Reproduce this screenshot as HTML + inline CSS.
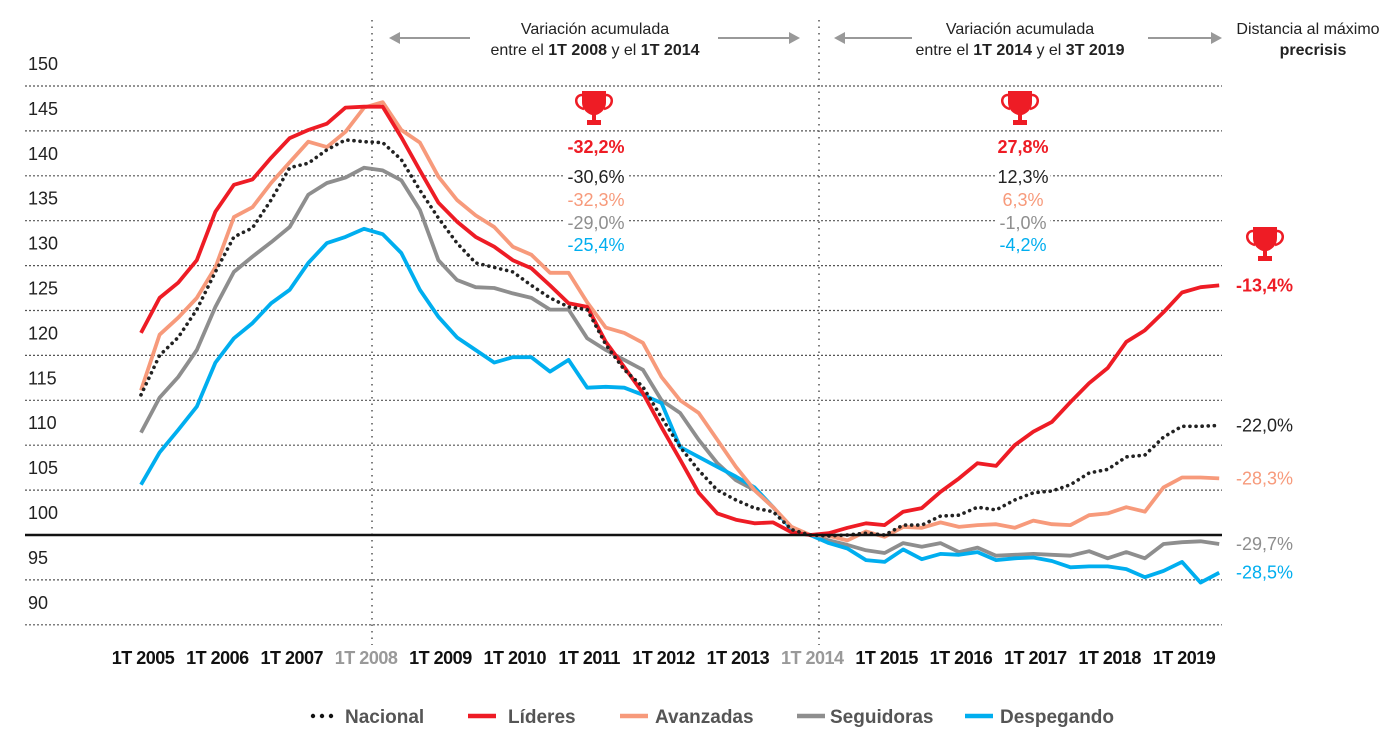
<!DOCTYPE html>
<html><head><meta charset="utf-8">
<style>
html,body{margin:0;padding:0;background:#fff;}
body{width:1400px;height:748px;overflow:hidden;font-family:"Liberation Sans Narrow","Liberation Sans",sans-serif;}
svg text{font-family:"Liberation Sans Narrow","Liberation Sans",sans-serif;}
</style></head>
<body>
<svg id="chart" width="1400" height="748" viewBox="0 0 1400 748" xmlns="http://www.w3.org/2000/svg">
<g id="grid"></g>
<g id="ylabels"></g>
<g id="xlabels"></g>
<g id="series"></g>
<g id="annot"></g>
<g id="legend"></g>
</svg>
<script>
const yTicks = [90,95,100,105,110,115,120,125,130,135,140,145,150];
const xYears = ["1T 2005","1T 2006","1T 2007","1T 2008","1T 2009","1T 2010","1T 2011","1T 2012","1T 2013","1T 2014","1T 2015","1T 2016","1T 2017","1T 2018","1T 2019"];
const nacional = [115.6,120.0,122.0,125.1,129.3,133.2,134.2,137.3,140.9,141.4,142.9,144.0,143.8,143.7,141.8,138.4,135.3,132.5,130.3,129.8,129.3,127.8,126.4,125.4,125.1,121.2,118.4,116.5,113.1,109.8,107.2,105.0,103.9,103.0,102.6,100.6,100,99.9,100,100.2,100,101.1,101.1,102.1,102.2,103.1,102.8,103.9,104.7,104.9,105.6,106.9,107.3,108.7,108.9,110.9,112.1,112.1,112.2];
const lideres = [122.5,126.4,128.1,130.6,136.0,139.0,139.6,142.0,144.2,145.1,145.8,147.6,147.7,147.7,144.3,140.6,137.0,134.9,133.2,132.1,130.6,129.7,127.8,125.8,125.4,121.5,118.7,115.8,112.0,108.4,104.7,102.4,101.7,101.3,101.4,100.3,100,100.2,100.8,101.3,101.1,102.6,103.0,104.8,106.3,108.0,107.7,110.0,111.5,112.6,114.8,116.9,118.6,121.5,122.8,124.8,127.0,127.6,127.8];
const avanzadas = [116.1,122.3,124.2,126.4,129.8,135.4,136.5,139.2,141.5,143.8,143.2,144.9,147.6,148.2,145.1,143.7,139.9,137.3,135.6,134.3,132.1,131.2,129.2,129.2,125.9,123.1,122.5,121.4,117.6,115.0,113.6,110.6,107.6,105.0,103.1,100.9,100,99.9,99.4,100.4,99.8,100.9,100.8,101.4,100.9,101.1,101.2,100.8,101.6,101.2,101.1,102.2,102.4,103.1,102.6,105.3,106.4,106.4,106.3];
const seguidoras = [111.4,115.3,117.6,120.6,125.4,129.3,131.0,132.6,134.3,137.9,139.2,139.8,140.9,140.6,139.5,136.2,130.6,128.4,127.6,127.5,126.9,126.4,125.1,125.1,121.9,120.6,119.5,118.4,115.0,113.6,110.6,108.0,106.1,105.0,103.1,100.8,100,99.4,98.9,98.3,98.0,99.1,98.7,99.1,98.1,98.6,97.7,97.8,97.9,97.8,97.7,98.2,97.4,98.1,97.4,99.0,99.2,99.3,99.0];
const despegando = [105.6,109.2,111.7,114.3,119.2,121.9,123.6,125.8,127.3,130.3,132.5,133.2,134.1,133.5,131.4,127.3,124.3,122.0,120.6,119.2,119.8,119.8,118.2,119.5,116.4,116.5,116.4,115.6,114.7,109.8,108.7,107.6,106.5,105.3,103.1,100.6,100,99.1,98.5,97.2,97.0,98.4,97.3,97.9,97.8,98.1,97.2,97.4,97.5,97.1,96.4,96.5,96.5,96.2,95.3,96.0,97.0,94.7,95.8];
const seriesNames = ["Nacional","Líderes","Avanzadas","Seguidoras","Despegando"];
const col1Values = ["-30,6%","-32,2%","-32,3%","-29,0%","-25,4%"];
const col2Values = ["12,3%","27,8%","6,3%","-1,0%","-4,2%"];
const endValues = ["-22,0%","-13,4%","-28,3%","-29,7%","-28,5%"];

const NS="http://www.w3.org/2000/svg";
const colors=["#222","#ee1c25","#f79a7b","#8e8e8e","#00aeef"];
const yScale=v=>535-(v-100)*8.98;
const xScale=q=>141+q*18.59;
function mk(tag,attrs,parent,txt){const e=document.createElementNS(NS,tag);for(const k in attrs)e.setAttribute(k,attrs[k]);if(txt!==undefined)e.textContent=txt;parent.appendChild(e);return e;}
const grid=document.getElementById('grid'),yl=document.getElementById('ylabels'),xl=document.getElementById('xlabels'),sg=document.getElementById('series'),an=document.getElementById('annot'),lg=document.getElementById('legend');

yTicks.forEach(v=>{
  const y=yScale(v);
  if(v!==100){
    const l=mk('line',{x1:25,x2:1222,y1:y,y2:y,stroke:'#555','stroke-width':1.2,'stroke-dasharray':'2 2'},grid);
    
    
  }
  const t=mk('text',{x:28,y:y-16,'font-size':18,fill:'#222'},yl,String(v));
  
  
});
[372,819].forEach((x,i)=>{
  const l=mk('line',{x1:x,x2:x,y1:20,y2:645,stroke:'#555','stroke-width':1.5,'stroke-dasharray':'1.5 5'},grid);
  
  
});
xYears.forEach((s,i)=>{
  const gray=(i===3||i===9);
  const t=mk('text',{x:xScale(i*4)+2,y:664,'text-anchor':'middle','font-size':18,'font-weight':'bold',fill:gray?'#999':'#111','letter-spacing':'-0.5'},xl,s);
  
  
});
const allSeries=[nacional,lideres,avanzadas,seguidoras,despegando];
[3,4,2,1,0].forEach(si=>{
  const d=allSeries[si].map((v,q)=>(q?'L':'M')+xScale(q).toFixed(1)+' '+yScale(v).toFixed(1)).join(' ');
  const attrs={d:d,fill:'none',stroke:colors[si],'stroke-width':si===0?3:3.8,'stroke-linejoin':'round'};
  if(si===0){attrs['stroke-dasharray']='0.1 6';attrs['stroke-linecap']='round';attrs['stroke-width']=3.6;}
  const p=mk('path',attrs,sg);
  
  
});
const base=mk('line',{x1:25,x2:1222,y1:535,y2:535,stroke:'#111','stroke-width':2.5},sg);



// header
function header(cx,lines,name){
  const g=mk('g',{},an);
  
  
  mk('text',{x:cx,y:34,'text-anchor':'middle','font-size':16,fill:'#222'},g,lines[0]);
  const t=mk('text',{x:cx,y:55,'text-anchor':'middle','font-size':16,fill:'#222'},g);
  lines[1].forEach(([s,b])=>{mk('tspan',{'font-weight':b?'bold':'normal'},t,s);});
}
header(595,["Variación acumulada",[["entre el ",0],["1T 2008",1],[" y el ",0],["1T 2014",1]]],'header-2008-2014');
header(1020,["Variación acumulada",[["entre el ",0],["1T 2014",1],[" y el ",0],["3T 2019",1]]],'header-2014-2019');
const h3=mk('g',{},an);


mk('text',{x:1308,y:34,'text-anchor':'middle','font-size':16,fill:'#222'},h3,'Distancia al máximo');
mk('text',{x:1313,y:55,'text-anchor':'middle','font-size':16,'font-weight':'bold',fill:'#222'},h3,'precrisis');
function arrow(x1,x2,name){
  const g=mk('g',{},an);
  
  
  const dir=x2>x1?1:-1;
  mk('line',{x1:x1,x2:x2-dir*8,y1:38,y2:38,stroke:'#999','stroke-width':2},g);
  mk('polygon',{points:`${x2},38 ${x2-dir*11},32 ${x2-dir*11},44`,fill:'#999'},g);
}
arrow(470,389,'arrow-left-1');arrow(718,800,'arrow-right-1');arrow(912,834,'arrow-left-2');arrow(1148,1222,'arrow-right-2');

function trophy(cx,ty,name){
  const g=mk('g',{transform:`translate(${cx},${ty})`},an);
  
  
  mk('path',{d:'M-12 -19 H12 V-8 C12 0 6 4 2 5 V10 H7 V15 H-7 V10 H-2 V5 C-6 4 -12 0 -12 -8 Z',fill:'#ee1c25'},g);
  mk('path',{d:'M-12 -15 C-20 -15 -20 -3 -10 -1 M12 -15 C20 -15 20 -3 10 -1',fill:'none',stroke:'#ee1c25','stroke-width':2.5},g);
}
trophy(594,110,'trophy-2008-2014');trophy(1020,110,'trophy-2014-2019');trophy(1265,246,'trophy-precrisis');

const rowOrder=[1,0,2,3,4];
const rowY=[153,183,206,229,251];
function col(cx,vals,name){
  rowOrder.forEach((si,r)=>{
    const w=vals[si].length*9+10;
    const bg=mk('rect',{x:cx-w/2,y:rowY[r]-17,width:w,height:20,fill:'#fff'},an);
    
    
    const t=mk('text',{x:cx,y:rowY[r],'text-anchor':'middle','font-size':18,'font-weight':si===1?'bold':'normal',fill:colors[si]},an,vals[si]);
    
    
  });
}
col(596,col1Values,'change-2008-2014');col(1023,col2Values,'change-2014-2019');
endValues.forEach((s,si)=>{
  const last=allSeries[si][allSeries[si].length-1];
  const t=mk('text',{x:1236,y:yScale(last)+6,'font-size':18,'font-weight':si===1?'bold':'normal',fill:colors[si]},an,s);
  
  
});

const legX=[[313,345],[468,508],[620,655],[797,830],[965,1000]];
seriesNames.forEach((n,si)=>{
  const g=mk('g',{},lg);
  
  
  const [lx,tx]=legX[si];
  if(si===0){[0,9,18].forEach(o=>mk('circle',{cx:lx+o,cy:716,r:2.2,fill:'#111'},g));}
  else mk('line',{x1:lx,x2:lx+28,y1:716,y2:716,stroke:colors[si],'stroke-width':4.5},g);
  mk('text',{x:tx,y:723,'font-size':19,'font-weight':'bold',fill:'#555'},g,n);
});
</script>
</body></html>
